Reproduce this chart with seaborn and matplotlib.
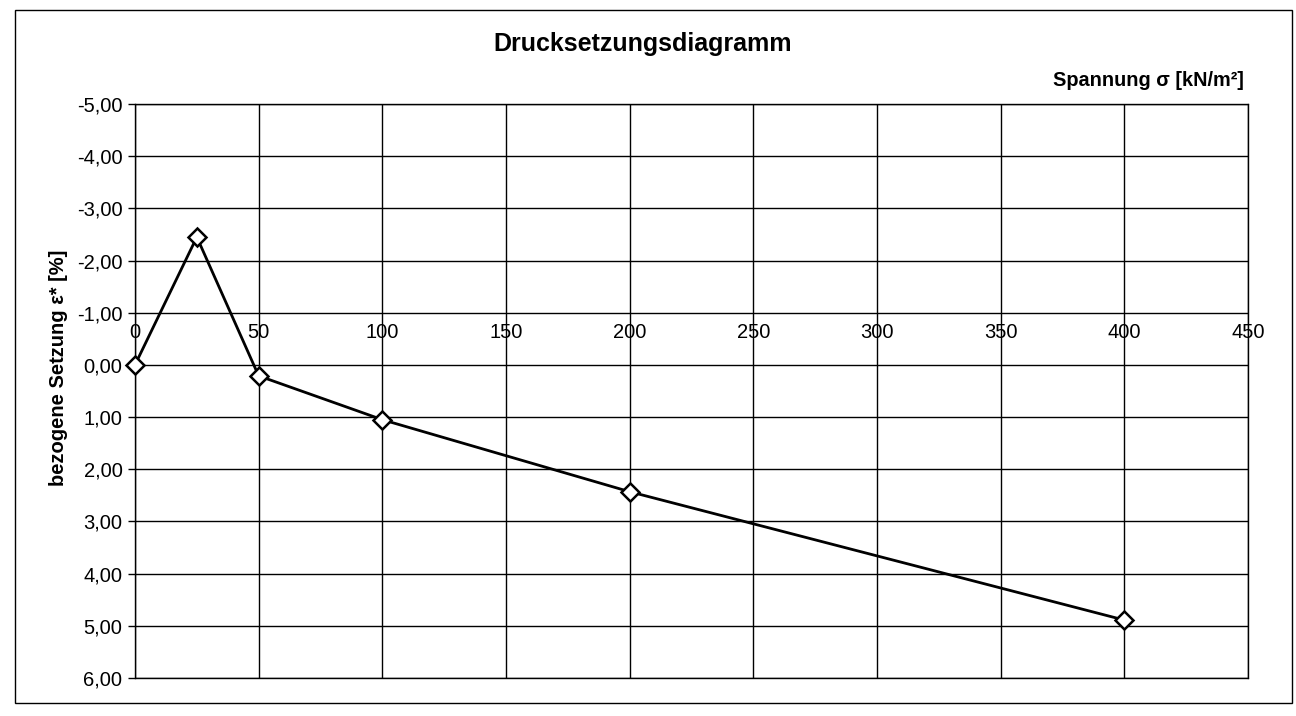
import matplotlib
matplotlib.use("Agg")
import matplotlib.pyplot as plt
import matplotlib.ticker as mticker
from matplotlib.patches import Rectangle
import seaborn as sns
import pandas as pd

# Spannung sigma [kN/m2] and bezogene Setzung [%]
spannung = [0, 25, 50, 100, 200, 400]
setzung = [0.00, -2.45, 0.21, 1.05, 2.43, 4.89]
x_ticks = [0, 50, 100, 150, 200, 250, 300, 350, 400, 450]
y_ticks = [-5, -4, -3, -2, -1, 0, 1, 2, 3, 4, 5, 6]

df = pd.DataFrame({"spannung": spannung, "setzung": setzung})

sns.set_style("white")
plt.rcParams["font.family"] = ["Liberation Sans", "DejaVu Sans"]
plt.rcParams["text.color"] = "black"
plt.rcParams["ytick.color"] = "black"
plt.rcParams["xtick.color"] = "black"

W, H = 1296, 716
fig = plt.figure(figsize=(W / 100, H / 100), dpi=100)
ax = fig.add_axes([135 / W, 1 - 678 / H, (1248 - 135) / W, (678 - 104) / H])

sns.lineplot(data=df, x="spannung", y="setzung", ax=ax, color="black",
             linewidth=2, marker="D", markersize=9, markerfacecolor="white",
             markeredgecolor="black", markeredgewidth=1.8, sort=False,
             clip_on=False, zorder=5)

ax.set_xlim(0, 450)
ax.set_ylim(6, -5)
ax.set_xticks(x_ticks)
ax.set_yticks(y_ticks)
ax.yaxis.set_major_formatter(mticker.FuncFormatter(lambda v, p: f"{v:.2f}".replace(".", ",")))
ax.grid(True, color="black", linewidth=1)
for s in ax.spines.values():
    s.set_color("black")
    s.set_linewidth(1)

# x axis crosses at 0, labels sit above that line
ax.spines["top"].set_visible(False)
ax.spines["bottom"].set_visible(False)
ax.plot([0, 450], [-5, -5], color="black", linewidth=1, clip_on=False)
ax.plot([0, 450], [6, 6], color="black", linewidth=1, clip_on=False)
ax.tick_params(axis="x", bottom=False, top=False, labelbottom=False, labeltop=False)
for v in x_ticks:
    ax.text(v, -0.62, str(v), ha="center", va="center", fontsize=14.5, color="black")
ax.tick_params(axis="y", left=True, length=5, width=1, labelsize=14.5, pad=4,
               colors="black")
ax.set_xlabel("")
ax.set_ylabel("")

fig.text(643 / W, 1 - 44 / H, "Drucksetzungsdiagramm", ha="center", va="center",
         fontsize=18, fontweight="bold", color="black")
fig.text(1244 / W, 1 - 81 / H, "Spannung σ [kN/m²]", ha="right", va="center",
         fontsize=14.3, fontweight="bold", color="black")
fig.text(58 / W, 1 - 368 / H, "bezogene Setzung ε* [%]", ha="center", va="center",
         rotation=90, fontsize=14.5, fontweight="bold", color="black")

fig.patches.append(Rectangle((15 / W, 1 - 703 / H), (1292 - 15) / W, (703 - 10) / H,
                             transform=fig.transFigure, fill=False,
                             edgecolor="black", linewidth=1))

fig.savefig("out.png", dpi=100, facecolor="white")
